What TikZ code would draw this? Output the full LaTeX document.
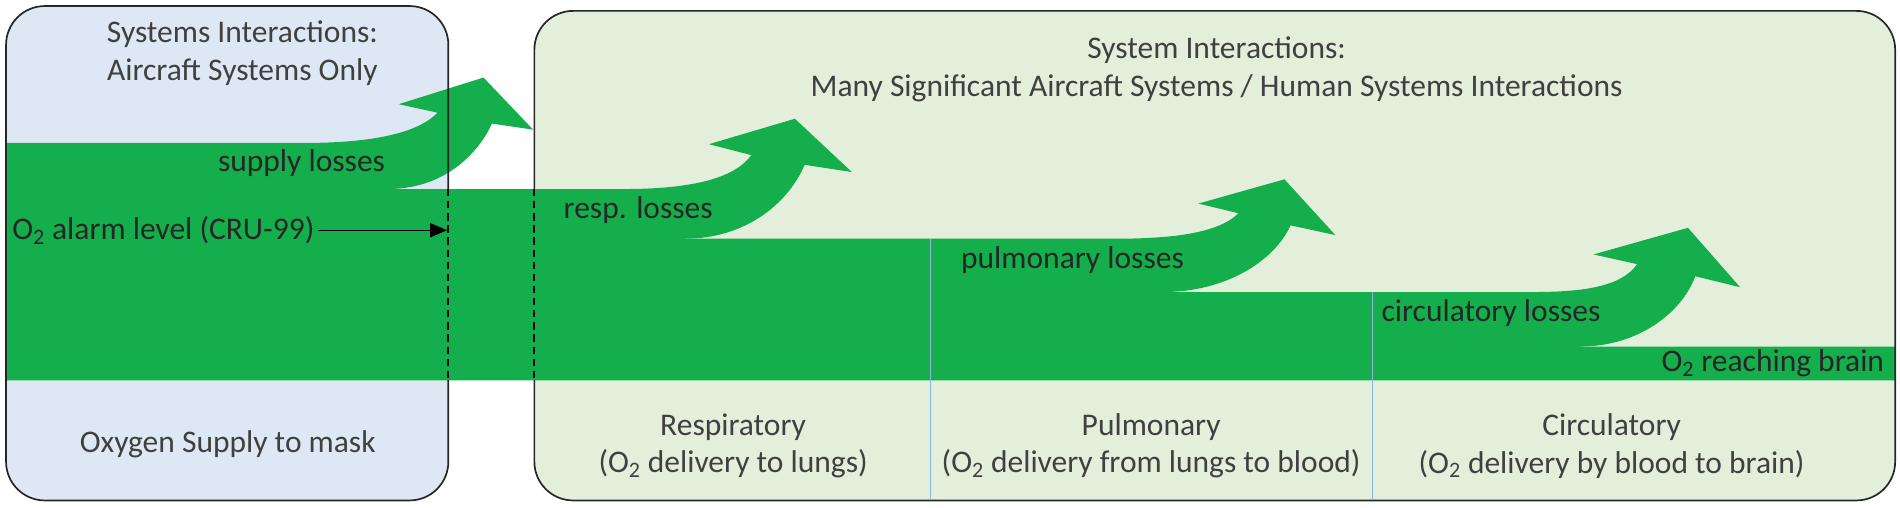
\documentclass[tikz,border=0pt]{standalone}
\usepackage{fontspec}
\setmainfont{Carlito}
\definecolor{o2green}{RGB}{20,174,76}
\definecolor{acfill}{RGB}{222,232,245}
\definecolor{humfill}{RGB}{227,239,218}
\definecolor{hdrgrey}{RGB}{64,64,64}
\definecolor{divline}{RGB}{140,180,225}
\tikzset{
  panel/.style={draw=black!85, line width=1.4pt, rounded corners=32pt},
  hdr/.style={text=hdrgrey, align=center, font=\fontsize{26}{31}\selectfont},
  loss/.style={text=black!85, font=\fontsize{26}{31}\selectfont},
  bound/.style={draw=black, line width=1.5pt, dash pattern=on 6pt off 4pt},
  divide/.style={draw=divline, line width=0.8pt}
}
\begin{document}
\begin{tikzpicture}[x=1pt,y=-1pt]
\tikzstyle{every node}+=[inner sep=0pt]
\useasboundingbox (0,0) rectangle (1568,419);
% panels
\fill [acfill, rounded corners=32pt] (5,5) rectangle (370,413);
\fill [humfill, rounded corners=32pt] (441,9) rectangle (1564,413);
% oxygen flow
\fill [o2green] (5,118) -- (250,118) -- (250,156) -- (515,156) -- (515,197) -- (920,197) -- (920,241) -- (1265,241) -- (1265,286) -- (1564,286) -- (1564,314) -- (5,314) -- cycle;
\fill [o2green] (250,118) .. controls (295,118) and (342,113) .. (361,93) -- (329,86) -- (399,64) -- (440,107) -- (406,102) .. controls (398,120) and (372,156) .. (320,156) -- (320,164) -- (250,164) -- cycle;
\fill [o2green] (515,156) .. controls (565,156) and (605,149) .. (620,128) -- (585,119) -- (656,98) -- (703,142) -- (664,136) .. controls (652,165) and (618,197) .. (565,197) -- (565,205) -- (515,205) -- cycle;
\fill [o2green] (920,197) .. controls (965,197) and (1005,193) .. (1022,176) -- (989,168) -- (1060,148) -- (1102,194) -- (1065,186) .. controls (1052,215) and (1012,241) .. (960,241) -- (960,249) -- (920,249) -- cycle;
\fill [o2green] (1265,241) .. controls (1305,241) and (1338,237) .. (1351,218) -- (1315,210) -- (1393,188) -- (1436,237) -- (1399,228) .. controls (1388,258) and (1352,286) .. (1304,286) -- (1304,294) -- (1265,294) -- cycle;
\draw [panel] (5,5) rectangle (370,413);
\draw [panel] (441,9) rectangle (1564,413);
\fill [o2green] (365,156) rectangle (446,314);
% stage dividers
\draw [divide] (768,197) -- (768,413);
\draw [divide] (1133,241) -- (1133,413);
\draw [bound] (370,156) -- (370,314);
\draw [bound] (441,156) -- (441,314);
% headings
\node [hdr] (achdr) at (200,44) {Systems Interactions:\\Aircraft Systems Only};
\node [hdr] (humhdr) at (1004,57) {System Interactions:\\Many Significant Aircraft Systems / Human Systems Interactions};
\node [hdr] (supply) at (188,367) {Oxygen Supply to mask};
\node [hdr] (resp) at (605,368) {Respiratory\\(O\textsubscript{2} delivery to lungs)};
\node [hdr] (pulm) at (950,368) {Pulmonary\\(O\textsubscript{2} delivery from lungs to blood)};
\node [hdr] (circ) at (1330,368) {Circulatory\\(O\textsubscript{2} delivery by blood to brain)};
% losses
\node [loss, anchor=east] (supplyloss) at (318,135) {supply losses};
\node [loss, anchor=west] (resploss) at (465,173) {resp. losses};
\node [loss, anchor=west] (pulmloss) at (793,215) {pulmonary losses};
\node [loss, anchor=west] (circloss) at (1140,258) {circulatory losses};
\node [loss, anchor=east] (brain) at (1555,300) {O\textsubscript{2} reaching brain};
\node [loss, anchor=west] (alarm) at (10,190) {O\textsubscript{2} alarm level (CRU-99)};
\coordinate (alarmx) at (369,0);
\draw [black, line width=1pt] ([xshift=3pt]alarm.east) -- ([xshift=-10pt]alarm.east -| alarmx);
\fill [black] (alarm.east -| alarmx) -- ++(-14,-6) -- ++(0,12) -- cycle;
\end{tikzpicture}
\end{document}
